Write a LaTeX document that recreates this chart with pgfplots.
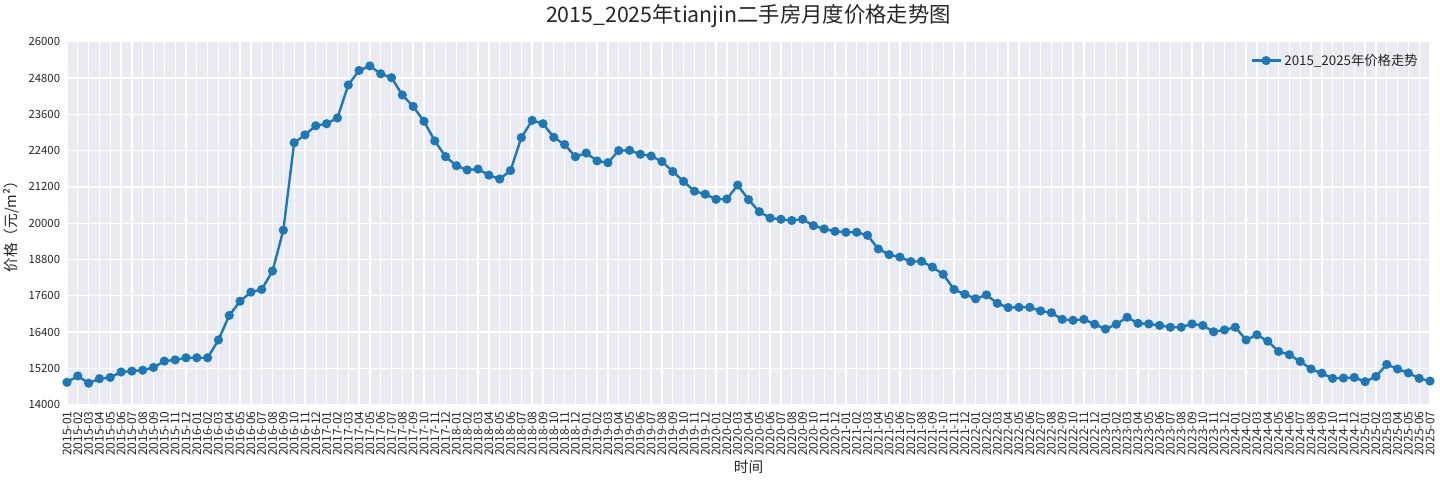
\documentclass[border=0pt]{standalone}
\usepackage{fontspec}
\setmainfont{Noto Sans CJK SC}
\usepackage{pgfplots}
\usepackage{pgfplotstable}
\pgfplotsset{compat=1.18}

\definecolor{sbbg}{HTML}{EAEAF2}
\definecolor{sbblue}{HTML}{1F77B4}
\definecolor{labelgray}{HTML}{262626}

% monthly price, 2015-01 .. 2025-07 (one row per month)
\pgfplotstableread{
price
14740
14950
14710
14860
14900
15080
15110
15140
15230
15440
15480
15550
15550
15550
16140
16950
17420
17720
17810
18420
19770
22660
22920
23220
23290
23480
24570
25050
25200
24940
24810
24240
23860
23370
22720
22200
21900
21760
21790
21590
21460
21740
22830
23400
23290
22840
22600
22200
22320
22060
22000
22400
22410
22280
22220
22040
21710
21380
21060
20960
20790
20800
21260
20780
20380
20170
20130
20090
20130
19920
19810
19730
19700
19700
19600
19150
18960
18880
18730
18740
18550
18310
17810
17650
17500
17630
17350
17210
17220
17220
17100
17040
16820
16790
16820
16660
16500
16660
16890
16690
16670
16620
16560
16560
16670
16620
16410
16470
16560
16140
16310
16100
15760
15650
15430
15180
15040
14870
14880
14900
14760
14930
15330
15180
15050
14870
14780
}\pricedata

\begin{document}
\begin{tikzpicture}
\path[use as bounding box] (-50.25pt,-56.5pt) rectangle (1029.75pt,303.5pt);
\begin{axis}[
    at={(0,0)}, anchor=south west,
    scale only axis,
    width=1022.25pt, height=272.2pt,
    xmin=0, xmax=126,
    ymin=14000, ymax=26000,
    xtick={0,...,126},
    ytick={14000,15200,...,26000},
    scaled y ticks=false,
    axis background/.style={fill=sbbg},
    axis line style={draw=none},
    grid=major,
    major grid style={white, line width=1pt},
    major tick length=0pt,
    /pgf/number format/assume math mode=true,
    /pgf/number format/set thousands separator={},
    tick label style={font=\fontsize{8.5}{10}\selectfont, text=labelgray},
    xticklabel style={rotate=90, anchor=east, inner sep=2pt, xshift=-3pt,
        font=\fontsize{9}{10}\selectfont},
    yticklabel style={anchor=east, inner sep=2pt, xshift=-3pt},
    xticklabel={\pgfmathtruncatemacro\mytick{round(\tick)}%
        \pgfmathtruncatemacro\yr{2015+floor(\mytick/12)}%
        \pgfmathtruncatemacro\mo{mod(\mytick,12)+1}%
        \yr-\ifnum\mo<10 0\fi\mo},
    title={2015\_2025年tianjin二手房月度价格走势图},
    title style={anchor=center, yshift=13.6pt,
        font=\fontsize{16}{19}\selectfont, text=labelgray},
    xlabel={时间},
    xlabel style={at={(axis description cs:0.5,0)}, anchor=center, yshift=-46.8pt,
        font=\fontsize{11}{13}\selectfont, text=labelgray},
    ylabel={价格（元/m²）},
    ylabel style={at={(axis description cs:-0.0407,0.5)}, anchor=center,
        font=\fontsize{11}{13}\selectfont, text=labelgray},
    legend style={at={(axis description cs:1,1)}, anchor=north east,
        xshift=-4pt, yshift=-5pt, draw=none, fill=none,
        font=\fontsize{10}{12}\selectfont, text=labelgray},
    legend cell align=left,
    legend image code/.code={%
        \draw[mark repeat=2, mark phase=2]
            plot coordinates {(0cm,0cm) (0.38cm,0cm) (0.76cm,0cm)};},
]
\addplot[color=sbblue, line width=1.8pt, mark=*, mark size=2.5pt,
    mark options={solid, fill=sbblue, draw=sbblue}]
    table[x expr=\coordindex, y=price] {\pricedata};
\legend{2015\_2025年价格走势}
\end{axis}
\end{tikzpicture}
\end{document}
